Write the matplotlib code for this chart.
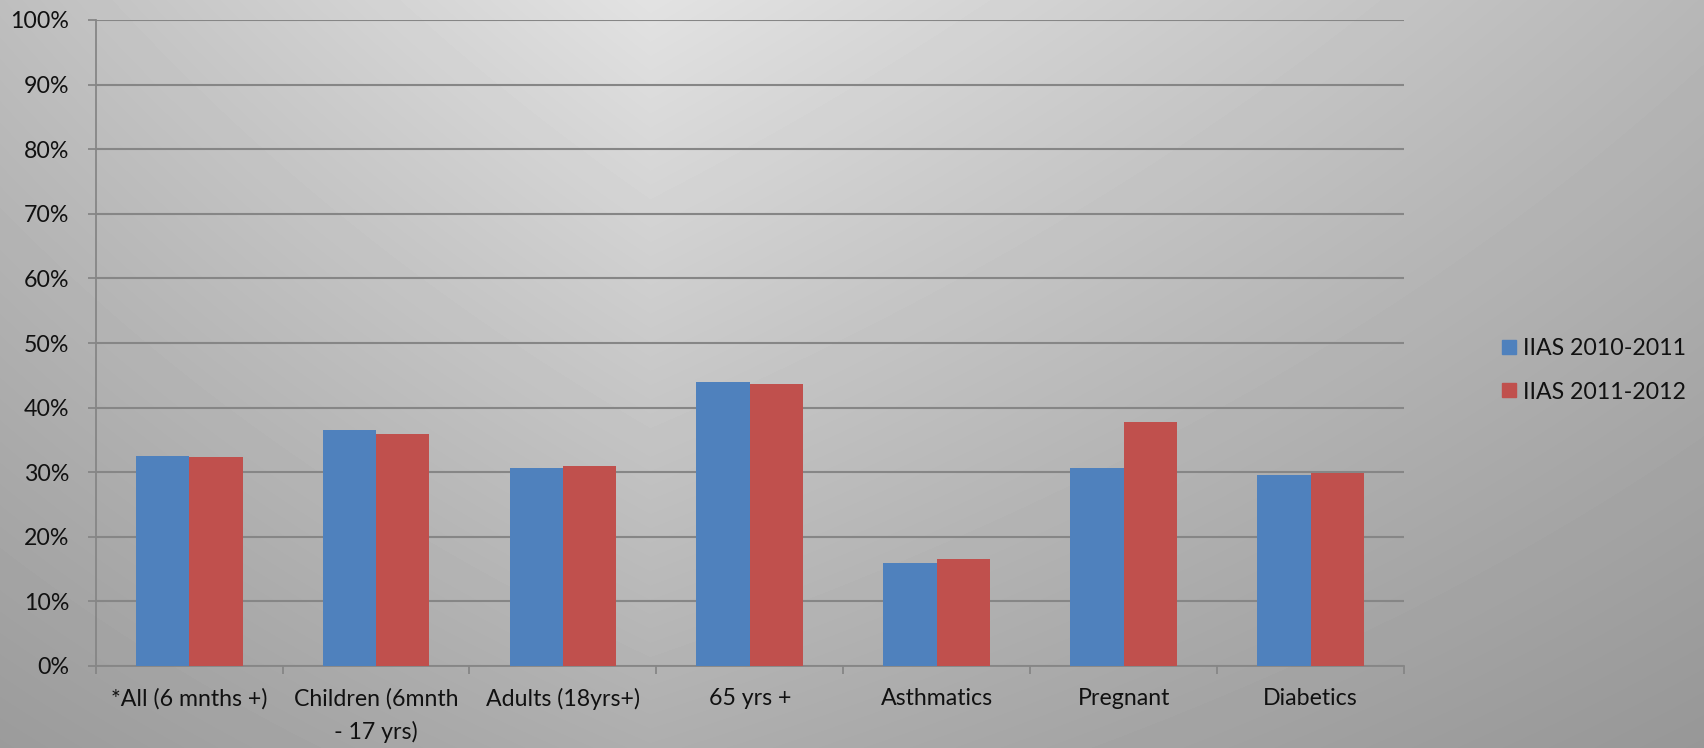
import numpy as np
import matplotlib
matplotlib.use("Agg")
import matplotlib.pyplot as plt
from matplotlib.lines import Line2D

categories = ["*All (6 mnths +)", "Children (6mnth\n- 17 yrs)", "Adults (18yrs+)",
              "65 yrs +", "Asthmatics", "Pregnant", "Diabetics"]
series_names = ["IIAS 2010-2011", "IIAS 2011-2012"]
iias_2010_2011 = [32.5, 36.6, 30.7, 43.9, 15.9, 30.6, 29.5]
iias_2011_2012 = [32.4, 35.9, 30.9, 43.7, 16.5, 37.7, 29.8]
y_ticks = [0, 10, 20, 30, 40, 50, 60, 70, 80, 90, 100]
y_tick_labels = [f"{v}%" for v in y_ticks]

colors = ["#4F81BD", "#C0504D"]
grid_color = "#868686"
plt.rcParams['font.family'] = ['Lato', 'DejaVu Sans']
FS = 16.7

W, H = 1704, 748
fig = plt.figure(figsize=(W / 100, H / 100), dpi=100)

# background gradient
bg = fig.add_axes([0, 0, 1, 1], zorder=-10)
xs = np.arange(W)
top = np.interp(xs, [0, 650, W], [190, 226, 183])
bot = np.interp(xs, [0, 650, W], [155, 174, 151])
ys = np.linspace(0, 1, H)[:, None]
img = top[None, :] * (1 - ys) + bot[None, :] * ys
bg.imshow(img, cmap="gray", vmin=0, vmax=255, aspect="auto", interpolation="bilinear")
bg.set_axis_off()

left, right = 95.7, 1404
top_px, bot_px = 20, 666
ax = fig.add_axes([left / W, (H - bot_px) / H, (right - left) / W, (bot_px - top_px) / H])
ax.set_facecolor("none")

n = len(categories)
x = np.arange(n)
w = 1 / 3.5
ax.bar(x - w / 2, iias_2010_2011, width=w, color=colors[0], zorder=3, label=series_names[0])
ax.bar(x + w / 2, iias_2011_2012, width=w, color=colors[1], zorder=3, label=series_names[1])

ax.set_xlim(-0.5, n - 0.5)
ax.set_ylim(0, 100)
ax.set_yticks(y_ticks)
ax.set_yticklabels(y_tick_labels, fontsize=FS, color="#111111")
ax.yaxis.grid(True, color=grid_color, linewidth=1.5, zorder=0)
ax.set_axisbelow(True)

ax.set_xticks(x)
ax.set_xticklabels(categories, fontsize=FS, linespacing=1.6, color="#111111")
ax.set_xticks(np.arange(n + 1) - 0.5, minor=True)
ax.tick_params(axis="x", which="major", length=0, pad=16)
ax.tick_params(axis="x", which="minor", length=6, width=1.3, color=grid_color, direction="out")
ax.tick_params(axis="y", length=6, width=1.3, color=grid_color, direction="out", pad=13)

for s in ["top", "right"]:
    ax.spines[s].set_visible(False)
for s in ["left", "bottom"]:
    ax.spines[s].set_color(grid_color)
    ax.spines[s].set_linewidth(1.3)

handles = [Line2D([], [], marker="s", linestyle="none", markersize=10.6,
                  markerfacecolor=c, markeredgecolor=c) for c in colors]
fig.legend(handles, series_names, loc="center left", bbox_to_anchor=(0.8806, 0.5047),
           frameon=False, fontsize=FS, handlelength=0.7, handletextpad=0.28,
           labelspacing=0.95, borderpad=0, borderaxespad=0, labelcolor="#111111")

fig.savefig("out.png", dpi=100)
